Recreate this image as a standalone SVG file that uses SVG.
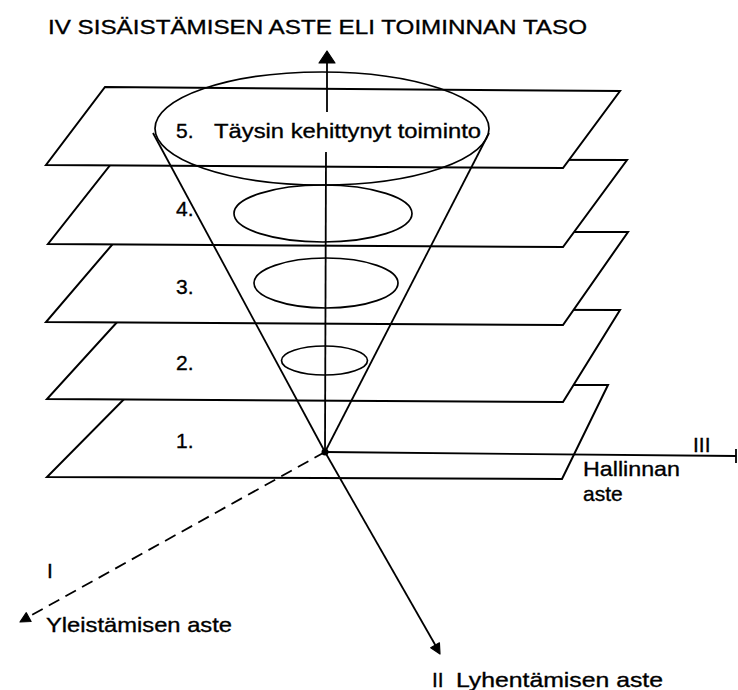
<svg xmlns="http://www.w3.org/2000/svg" width="738" height="690" viewBox="0 0 738 690">
<style>
.pl{fill:#fff;stroke:#000;stroke-width:2;stroke-linejoin:miter}
.el{fill:none;stroke:#000;stroke-width:1.7}
.ln{fill:none;stroke:#000;stroke-width:1.8}
.ah{fill:#000;stroke:#000;stroke-width:1.2;stroke-linejoin:round}
text{font-family:"Liberation Sans",Arial,sans-serif;font-size:21px;fill:#000;stroke:#000;stroke-width:0.35}
</style>
<rect width="738" height="690" fill="#fff"/>
<text id="title" x="48" y="34" textLength="539" lengthAdjust="spacingAndGlyphs">IV SISÄISTÄMISEN ASTE ELI TOIMINNAN TASO</text>
<g id="level-1">
<polygon class="pl" points="138,385 608,385 562,479 47,477"/>
<text x="176" y="448">1.</text>
</g>
<g id="level-2">
<polygon class="pl" points="129,309 620,310 563,402 47,399"/>
<ellipse class="el" cx="324.5" cy="360.5" rx="43" ry="14.5"/>
<text x="176" y="370">2.</text>
</g>
<g id="level-3">
<polygon class="pl" points="123,232 628,232 563,325 46,322"/>
<ellipse class="el" cx="326" cy="283" rx="72" ry="25"/>
<text x="176" y="294">3.</text>
</g>
<g id="level-4">
<polygon class="pl" points="115,159 627,160 563,247 48,244"/>
<ellipse class="el" cx="323" cy="213.5" rx="89" ry="28.5"/>
<text x="176" y="216">4.</text>
</g>
<g id="level-5">
<polygon class="pl" points="105,87 620,91 563,168 46,165"/>
<ellipse class="el" cx="322" cy="128.5" rx="167" ry="56.5"/>
<text x="176" y="138">5.</text>
<text x="214" y="138" textLength="267" lengthAdjust="spacingAndGlyphs">Täysin kehittynyt toiminto</text>
</g>
<g id="connectors">
<line class="ln" x1="153" y1="133" x2="325" y2="452"/>
<line class="ln" x1="489" y1="133" x2="325" y2="452"/>
<line class="ln" x1="327" y1="60" x2="327" y2="112"/>
<line class="ln" x1="326" y1="152" x2="325" y2="452"/>
<polygon class="ah" points="327,51 335,63 319,63"/>
<line class="ln" x1="325" y1="452" x2="437" y2="648"/>
<polygon class="ah" points="440,654 439.4,642.8 430.7,647.8"/>
<line class="ln" x1="325" y1="452" x2="30" y2="616" stroke-dasharray="12,7"/>
<polygon class="ah" points="20,622 31.1,621.5 26.3,612.7"/>
<line class="ln" x1="325" y1="452" x2="736" y2="456"/>
<line class="ln" x1="736" y1="449" x2="736" y2="463" stroke-width="2.5"/>
<circle cx="325" cy="452" r="3.5" fill="#000"/>
</g>
<g id="axis-labels">
<text x="693" y="452">III</text>
<text x="583" y="476" font-size="20" textLength="97" lengthAdjust="spacingAndGlyphs">Hallinnan</text>
<text x="583" y="501" font-size="20">aste</text>
<text x="47" y="578">I</text>
<text x="46" y="632" textLength="186" lengthAdjust="spacingAndGlyphs">Yleistämisen aste</text>
<text x="432" y="687">II</text>
<text x="456" y="687" textLength="207" lengthAdjust="spacingAndGlyphs">Lyhentämisen aste</text>
</g>
</svg>
